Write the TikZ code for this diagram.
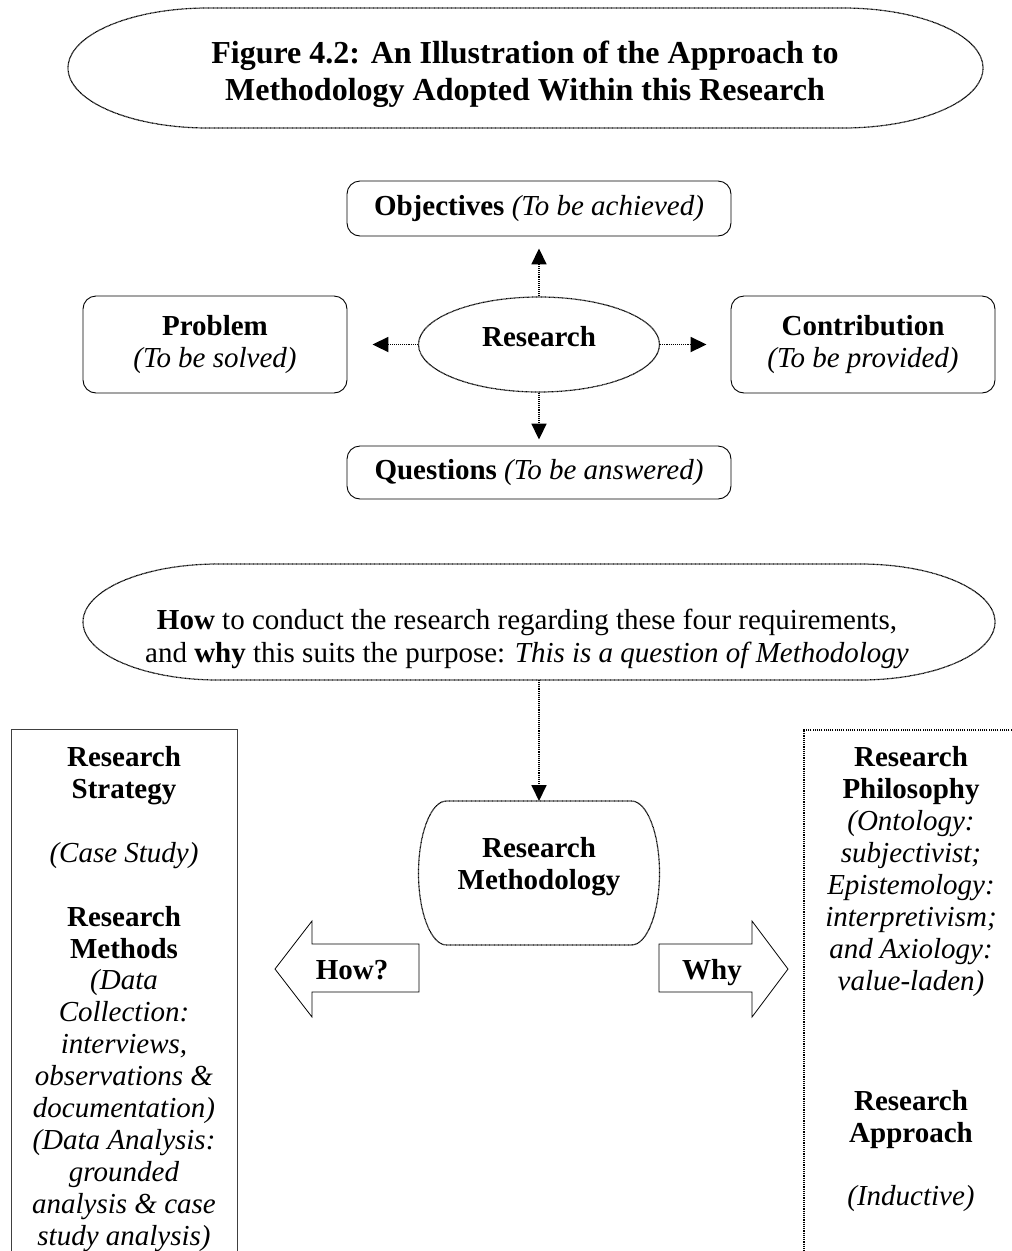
\documentclass[tikz,border=0pt]{standalone}
\usepackage{fontspec}
\setmainfont{Liberation Serif}
\usetikzlibrary{arrows.meta,calc,shapes.geometric}

\newcommand{\stadiumpath}[4]{% node name, rx, ry, style
  \draw[#4] ($(#1.north west)+(#2,0)$) -- ($(#1.north east)+(-#2,0)$)
    arc[start angle=90,end angle=-90,x radius=#2,y radius=#3]
    -- ($(#1.south west)+(#2,0)$)
    arc[start angle=270,end angle=90,x radius=#2,y radius=#3] -- cycle;}

\tikzset{
  shapeline/.style={draw=black, line width=1.2pt, dash pattern=on 0.8pt off 0.5pt},
  conn/.style={line width=1.8pt, dash pattern=on 1.1pt off 1pt, -{Triangle[length=16pt,width=15pt]}},
  rbox/.style={draw=black, rounded corners=13pt, line width=0.9pt, inner sep=0pt, align=center},
  framenode/.style={inner sep=0pt, outer sep=0pt},
  txt/.style={align=center, inner sep=0pt},
  fbody/.style={font=\fontsize{29}{31.9}\selectfont},
  fbold/.style={font=\fontsize{29}{31.9}\selectfont\bfseries},
  bigarrow/.style={draw=black, line width=0.8pt},
}

\begin{document}
\begin{tikzpicture}[x=1pt,y=1pt]
\useasboundingbox (0,0) rectangle (1012,-1251);

% Title
\node[framenode, minimum width=915pt, minimum height=120pt] (titlef) at (525.5,-68) {};
\stadiumpath{titlef}{140pt}{60pt}{shapeline}
\node[txt, font=\fontsize{32}{37}\selectfont\bfseries] (title) at (525,-74.5)
  {Figure 4.2: An Illustration of the Approach to\\Methodology Adopted Within this Research};

% Four requirements
\node[rbox, fbody, minimum width=384pt, minimum height=55pt] (objectives) at (539,-208.5)
  {\textbf{Objectives} \textit{(To be achieved)}};
\node[rbox, fbody, minimum width=384pt, minimum height=53pt] (questions) at (539,-472.5)
  {\textbf{Questions} \textit{(To be answered)}};
\node[rbox, fbody, minimum width=264pt, minimum height=97pt] (problem) at (215,-344.5)
  {\textbf{Problem}\\\textit{(To be solved)}};
\node[rbox, fbody, minimum width=264pt, minimum height=97pt] (contribution) at (863,-344.5)
  {\textbf{Contribution}\\\textit{(To be provided)}};

\node[ellipse, shapeline, minimum width=241pt, minimum height=95pt, inner sep=0pt] (research) at (539,-344.5) {};
\node[txt, fbold] (researchlbl) at (539,-337) {Research};

\draw[conn, shorten >=12pt] (research.north) -- (objectives.south);
\draw[conn, shorten >=6pt] (research.south) -- (questions.north);
\draw[conn, shorten >=25pt] (research.west) -- (problem.east);
\draw[conn, shorten >=24pt] (research.east) -- (contribution.west);

% Methodology question
\node[framenode, minimum width=912pt, minimum height=116pt] (methq) at (539,-622) {};
\stadiumpath{methq}{135pt}{58pt}{shapeline}
\node[txt, font=\fontsize{29}{32.5}\selectfont] (methqlbl) at (527,-639)
  {\textbf{How} to conduct the research regarding these four requirements,\\
   and \textbf{why} this suits the purpose: \textit{This is a question of Methodology}};

% Research Methodology
\node[framenode, minimum width=241pt, minimum height=144pt] (rm) at (539,-873) {};
\stadiumpath{rm}{28pt}{72pt}{shapeline}
\node[txt, fbold] (rmlbl) at (539,-867)
  {Research\\Methodology};

\draw[conn] (methq.south) -- (rm.north);

% How? / Why arrows
\draw[bigarrow] (419,-944) -- (312,-944) -- (312,-921) -- (275,-969) -- (312,-1017) -- (312,-992) -- (419,-992) -- cycle;
\node[txt, fbold] (howlbl) at (352,-970) {How?};
\draw[bigarrow] (659,-944) -- (752,-944) -- (752,-921) -- (788,-969) -- (752,-1017) -- (752,-992) -- (659,-992) -- cycle;
\node[txt, fbold] (whylbl) at (712,-973) {Why};

% Side boxes
\node[draw=black!75, line width=1pt, minimum width=226pt, minimum height=600pt, anchor=north west, inner sep=0pt] (leftbox) at (11,-729) {};
\node[draw=black, line width=1.6pt, dash pattern=on 1.1pt off 1.1pt, minimum width=300pt, minimum height=600pt, anchor=north west, inner sep=0pt] (rightbox) at (803,-729) {};

\node[txt, fbody] (lefttxt) at (124,-999)
  {\textbf{Research}\\\textbf{Strategy}\\[31.9pt]
   \textit{(Case Study)}\\[31.9pt]
   \textbf{Research}\\\textbf{Methods}\\
   \textit{(Data}\\\textit{Collection:}\\\textit{interviews,}\\\textit{observations \&}\\
   \textit{documentation)}\\\textit{(Data Analysis:}\\\textit{grounded}\\
   \textit{analysis \& case}\\\textit{study analysis)}};

\node[txt, fbody] (philtxt) at (911,-871.5)
  {\textbf{Research}\\\textbf{Philosophy}\\\textit{(Ontology:}\\\textit{subjectivist;}\\
   \textit{Epistemology:}\\\textit{interpretivism;}\\\textit{and Axiology:}\\\textit{value-laden)}};

\node[txt, fbody] (apprtxt) at (911,-1151)
  {\textbf{Research}\\\textbf{Approach}\\[31.9pt]\textit{(Inductive)}};
\end{tikzpicture}
\end{document}
